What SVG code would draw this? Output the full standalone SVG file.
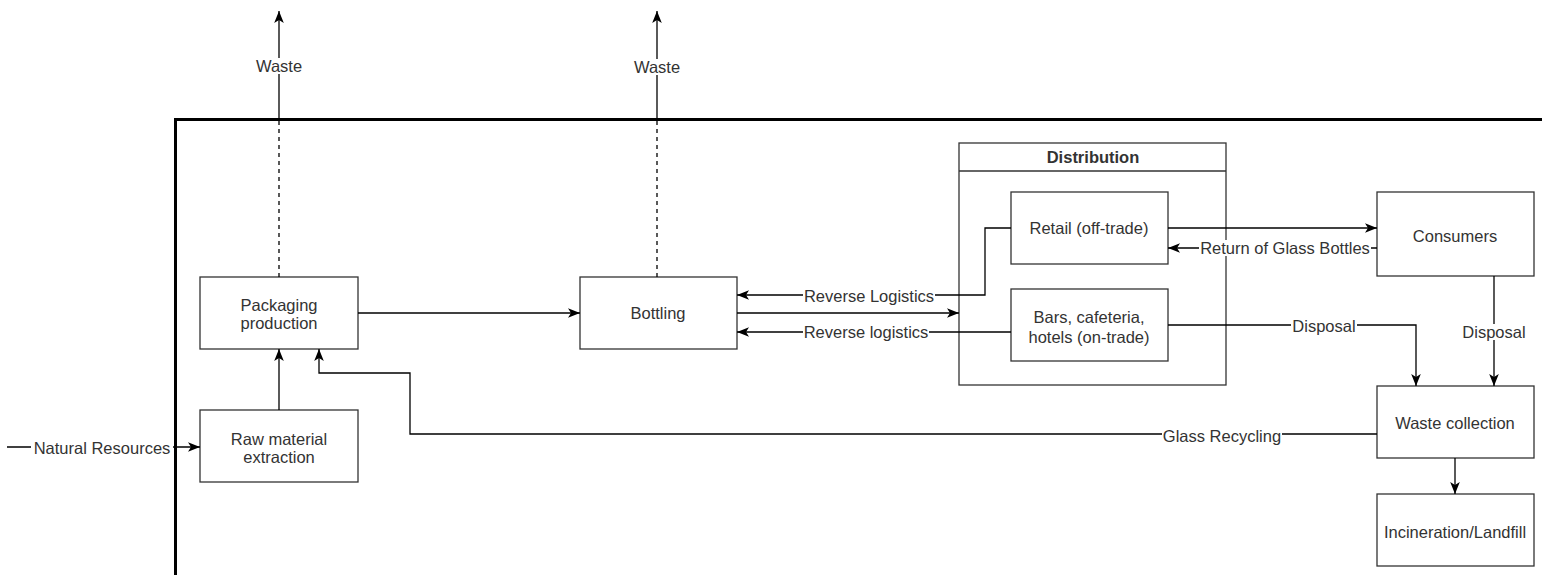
<svg xmlns="http://www.w3.org/2000/svg" width="1542" height="575" viewBox="0 0 1542 575">
<style>
.box{fill:#fff;stroke:#333;stroke-width:1.3}
.t{font-family:"Liberation Sans",Arial,sans-serif;font-size:16.5px;fill:#333;text-anchor:middle;dominant-baseline:central}
.b{font-weight:bold}
.c{fill:none;stroke:#000;stroke-width:1.3}
.a{marker-end:url(#arr)}
.d{stroke-dasharray:4 4}
.lb{fill:#fff}
</style>
<defs>
<marker id="arr" viewBox="0 0 10 10" refX="10" refY="5" markerWidth="12" markerHeight="12" markerUnits="userSpaceOnUse" orient="auto">
<path d="M0,1 L10,5 L0,9 L2.5,5 Z" fill="#000"/>
</marker>
</defs>
<rect x="0" y="0" width="1542" height="575" fill="#fff"/>
<g id="packaging">
<rect class="box" x="200" y="277" width="158" height="72"/>
<text class="t" x="279" y="305">Packaging</text>
<text class="t" x="279" y="323">production</text>
</g>
<g id="raw">
<rect class="box" x="200" y="410" width="158" height="72"/>
<text class="t" x="279" y="439">Raw material</text>
<text class="t" x="279" y="457">extraction</text>
</g>
<g id="bottling">
<rect class="box" x="580" y="277" width="157" height="72"/>
<text class="t" x="658" y="313">Bottling</text>
</g>
<g id="distribution">
<rect class="box" x="959" y="143" width="267" height="242" style="fill:none"/>
<line x1="959" y1="171" x2="1226" y2="171" stroke="#333" stroke-width="1.3"/>
<text class="t b" x="1093" y="157">Distribution</text>
</g>
<g id="retail">
<rect class="box" x="1011" y="192" width="157" height="72"/>
<text class="t" x="1089" y="228">Retail (off-trade)</text>
</g>
<g id="bars">
<rect class="box" x="1011" y="289" width="157" height="72"/>
<text class="t" x="1089" y="317">Bars, cafeteria,</text>
<text class="t" x="1089" y="337">hotels (on-trade)</text>
</g>
<g id="consumers">
<rect class="box" x="1377" y="192" width="157" height="84"/>
<text class="t" x="1455" y="236">Consumers</text>
</g>
<g id="wastecollection">
<rect class="box" x="1377" y="386" width="157" height="72"/>
<text class="t" x="1455" y="423">Waste collection</text>
</g>
<g id="incineration">
<rect class="box" x="1377" y="494" width="157" height="72"/>
<text class="t" x="1455" y="532">Incineration/Landfill</text>
</g>
<g id="connectors">
<line class="c d" x1="279" y1="277" x2="279" y2="119"/>
<line class="c a" x1="279" y1="119" x2="279" y2="11"/>
<line class="c d" x1="657" y1="277" x2="657" y2="119"/>
<line class="c a" x1="657" y1="119" x2="657" y2="11"/>
<line class="c a" x1="279" y1="410" x2="279" y2="349"/>
<line class="c a" x1="358" y1="313" x2="580" y2="313"/>
<line class="c a" x1="7" y1="447" x2="200" y2="447"/>
<line class="c a" x1="737" y1="313" x2="959" y2="313"/>
<polyline class="c a" points="1011,228 985,228 985,295 737,295"/>
<line class="c a" x1="1011" y1="332" x2="737" y2="332"/>
<line class="c a" x1="1168" y1="228" x2="1377" y2="228"/>
<line class="c a" x1="1377" y1="248" x2="1168" y2="248"/>
<polyline class="c a" points="1168,325 1416,325 1416,386"/>
<line class="c a" x1="1494" y1="276" x2="1494" y2="386"/>
<polyline class="c a" points="1377,434 410,434 410,373 319,373 319,349"/>
<line class="c a" x1="1455" y1="458" x2="1455" y2="494"/>
<g id="labels">
<rect class="lb" x="255" y="58" width="48" height="16"/><text class="t" x="279" y="66">Waste</text>
<rect class="lb" x="633" y="59" width="48" height="16"/><text class="t" x="657" y="67">Waste</text>
<rect class="lb" x="31" y="440" width="142" height="16"/><text class="t" x="102" y="448">Natural Resources</text>
<rect class="lb" x="803" y="288" width="132" height="16"/><text class="t" x="869" y="296">Reverse Logistics</text>
<rect class="lb" x="803" y="324" width="126" height="16"/><text class="t" x="866" y="332">Reverse logistics</text>
<rect class="lb" x="1199" y="240" width="172" height="16"/><text class="t" x="1285" y="248">Return of Glass Bottles</text>
<rect class="lb" x="1291" y="318" width="66" height="16"/><text class="t" x="1324" y="326">Disposal</text>
<rect class="lb" x="1461" y="324" width="66" height="16"/><text class="t" x="1494" y="332">Disposal</text>
<rect class="lb" x="1162" y="428" width="120" height="16"/><text class="t" x="1222" y="436">Glass Recycling</text>
</g>
</g>
<g id="boundary">
<rect x="175.5" y="119.5" width="1400" height="500" fill="none" stroke="#000" stroke-width="3"/>
</g>
</svg>
